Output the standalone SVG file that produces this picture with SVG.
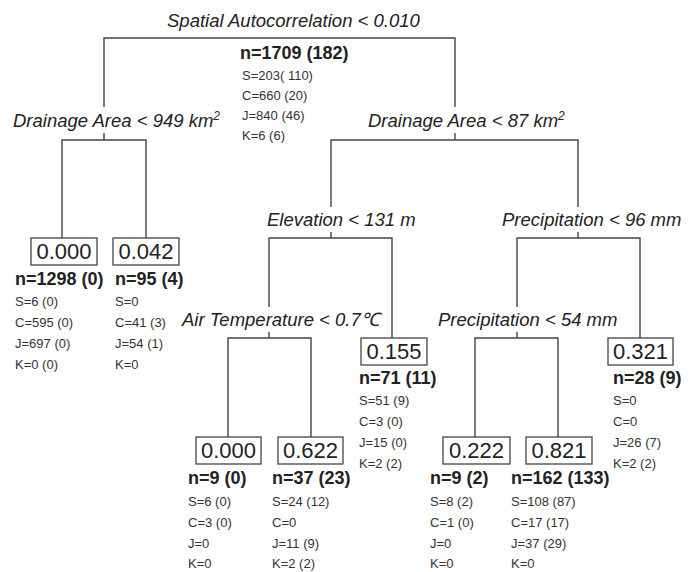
<svg xmlns="http://www.w3.org/2000/svg" width="694" height="572" viewBox="0 0 694 572">
<style>
.lab{font-family:"Liberation Sans",Arial,sans-serif;font-style:italic;font-size:18.5px;fill:#222}
.val{font-family:"Liberation Sans",Arial,sans-serif;font-size:22px;fill:#222;text-anchor:middle}
.n{font-family:"Liberation Sans",Arial,sans-serif;font-weight:bold;font-size:18px;fill:#222}
.s{font-family:"Liberation Sans",Arial,sans-serif;font-size:13px;fill:#333}
.box{fill:#fff;stroke:#444;stroke-width:1.3}
.c{fill:none;stroke:#444;stroke-width:1.4}
</style>
<rect width="694" height="572" fill="#fff"/>
<g id="connectors" class="c">
<path d="M104,107V38H455V107"/>
<path d="M104,133V140M62,238V140H146V238"/>
<path d="M455,133V140M331,207V140H578V207"/>
<path d="M331,232V238M269,307V238H392V338"/>
<path d="M578,232V238M517,307V238H640V338"/>
<path d="M269,332V338M228,437V338H311V437"/>
<path d="M517,332V338M475,437V338H558V437"/>
</g>
<g id="root">
<text class="lab" x="167" y="27">Spatial Autocorrelation &lt; 0.010</text>
<text class="n" x="240" y="59">n=1709 (182)</text>
<text class="s" x="242" y="80">S=203( 110)</text>
<text class="s" x="242" y="100">C=660 (20)</text>
<text class="s" x="242" y="120">J=840 (46)</text>
<text class="s" x="242" y="140">K=6 (6)</text>
</g>
<g id="split-drainage949">
<text class="lab" x="13" y="127">Drainage Area &lt; 949 km<tspan font-size="12" dy="-7">2</tspan></text>
</g>
<g id="split-drainage87">
<text class="lab" x="368" y="127">Drainage Area &lt; 87 km<tspan font-size="12" dy="-7">2</tspan></text>
</g>
<g id="split-elevation">
<text class="lab" x="267" y="226">Elevation &lt; 131 m</text>
</g>
<g id="split-precip96">
<text class="lab" x="502" y="226">Precipitation &lt; 96 mm</text>
</g>
<g id="split-airtemp">
<text class="lab" x="182" y="326">Air Temperature &lt; 0.7℃</text>
</g>
<g id="split-precip54">
<text class="lab" x="438" y="326">Precipitation &lt; 54 mm</text>
</g>
<g id="leaf-1">
<rect class="box" x="31" y="238" width="66" height="27"/>
<text class="val" x="64" y="259">0.000</text>
<text class="n" x="15" y="285">n=1298 (0)</text>
<text class="s" x="15" y="306">S=6 (0)</text>
<text class="s" x="15" y="327">C=595 (0)</text>
<text class="s" x="15" y="348">J=697 (0)</text>
<text class="s" x="15" y="369">K=0 (0)</text>
</g>
<g id="leaf-2">
<rect class="box" x="113" y="238" width="66" height="27"/>
<text class="val" x="146" y="259">0.042</text>
<text class="n" x="115" y="285">n=95 (4)</text>
<text class="s" x="115" y="306">S=0</text>
<text class="s" x="115" y="327">C=41 (3)</text>
<text class="s" x="115" y="348">J=54 (1)</text>
<text class="s" x="115" y="369">K=0</text>
</g>
<g id="leaf-3">
<rect class="box" x="361" y="338" width="66" height="27"/>
<text class="val" x="394" y="359">0.155</text>
<text class="n" x="359" y="384">n=71 (11)</text>
<text class="s" x="359" y="405">S=51 (9)</text>
<text class="s" x="359" y="426">C=3 (0)</text>
<text class="s" x="359" y="447">J=15 (0)</text>
<text class="s" x="359" y="468">K=2 (2)</text>
</g>
<g id="leaf-4">
<rect class="box" x="608" y="338" width="65" height="27"/>
<text class="val" x="640.5" y="359">0.321</text>
<text class="n" x="613" y="384">n=28 (9)</text>
<text class="s" x="613" y="405">S=0</text>
<text class="s" x="613" y="426">C=0</text>
<text class="s" x="613" y="447">J=26 (7)</text>
<text class="s" x="613" y="468">K=2 (2)</text>
</g>
<g id="leaf-5">
<rect class="box" x="196" y="437" width="65" height="27"/>
<text class="val" x="228.5" y="458">0.000</text>
<text class="n" x="188" y="484">n=9 (0)</text>
<text class="s" x="188" y="506">S=6 (0)</text>
<text class="s" x="188" y="527">C=3 (0)</text>
<text class="s" x="188" y="548">J=0</text>
<text class="s" x="188" y="568">K=0</text>
</g>
<g id="leaf-6">
<rect class="box" x="278" y="437" width="65" height="27"/>
<text class="val" x="310.5" y="458">0.622</text>
<text class="n" x="272" y="484">n=37 (23)</text>
<text class="s" x="272" y="506">S=24 (12)</text>
<text class="s" x="272" y="527">C=0</text>
<text class="s" x="272" y="548">J=11 (9)</text>
<text class="s" x="272" y="568">K=2 (2)</text>
</g>
<g id="leaf-7">
<rect class="box" x="443" y="437" width="67" height="27"/>
<text class="val" x="476.5" y="458">0.222</text>
<text class="n" x="430" y="484">n=9 (2)</text>
<text class="s" x="430" y="506">S=8 (2)</text>
<text class="s" x="430" y="527">C=1 (0)</text>
<text class="s" x="430" y="548">J=0</text>
<text class="s" x="430" y="568">K=0</text>
</g>
<g id="leaf-8">
<rect class="box" x="526" y="437" width="66" height="27"/>
<text class="val" x="559" y="458">0.821</text>
<text class="n" x="511" y="484">n=162 (133)</text>
<text class="s" x="511" y="506">S=108 (87)</text>
<text class="s" x="511" y="527">C=17 (17)</text>
<text class="s" x="511" y="548">J=37 (29)</text>
<text class="s" x="511" y="568">K=0</text>
</g>
</svg>
